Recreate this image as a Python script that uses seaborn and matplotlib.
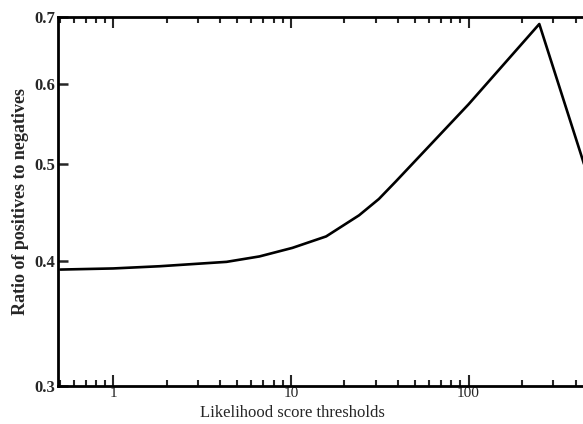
import numpy as np
import pandas as pd
import seaborn as sns
import matplotlib
matplotlib.use("Agg")
import matplotlib.pyplot as plt
from matplotlib.ticker import LogLocator, FixedLocator, NullFormatter, FuncFormatter

# values
thresholds = [0.505, 1.0, 1.83, 4.35, 6.66, 10.2, 15.8, 24.2, 31.3, 39.0, 100.0, 250.0, 430.0, 520.0]
ratios = [0.392, 0.393, 0.395, 0.399, 0.404, 0.412, 0.423, 0.444, 0.461, 0.480, 0.573, 0.689, 0.510, 0.458]
y_ticks = [0.3, 0.4, 0.5, 0.6, 0.7]
x_ticks = [1, 10, 100]

df = pd.DataFrame({"threshold": thresholds, "ratio": ratios})

sns.set_style("ticks")
plt.rcParams["font.family"] = ["Liberation Serif", "DejaVu Serif"]

fig = plt.figure(figsize=(5.83, 4.24), dpi=100)
# axes runs past the right edge of the figure, like the cropped original
ax = fig.add_axes([0.0995, 0.0896, 0.95, 0.870])

sns.lineplot(data=df, x="threshold", y="ratio", ax=ax, color="black", linewidth=1.9, estimator=None, sort=False)

ax.set_xscale("log")
ax.set_yscale("log")
ax.set_xlim(0.49, 640)
ax.set_ylim(0.3, 0.7)

ax.xaxis.set_major_locator(FixedLocator(x_ticks))
ax.xaxis.set_minor_locator(LogLocator(base=10, subs=np.arange(2, 10)))
ax.xaxis.set_major_formatter(FuncFormatter(lambda v, p: "%g" % v))
ax.xaxis.set_minor_formatter(NullFormatter())
ax.yaxis.set_major_locator(FixedLocator(y_ticks))
ax.yaxis.set_minor_locator(FixedLocator([]))
ax.yaxis.set_major_formatter(FuncFormatter(lambda v, p: "%g" % v))
ax.yaxis.set_minor_formatter(NullFormatter())

ax.tick_params(axis="x", which="major", direction="in", top=True, bottom=True, length=8, width=1.5, labelsize=11, pad=1)
ax.tick_params(axis="x", which="minor", direction="in", top=True, bottom=True, length=4, width=1.5)
ax.tick_params(axis="y", which="major", direction="in", left=True, right=False, length=7, width=1.8, labelsize=12, pad=2)
for lbl in ax.get_yticklabels():
    lbl.set_fontweight("bold")

for s in ax.spines.values():
    s.set_linewidth(2.0)
    s.set_color("black")

ax.set_xlabel("Likelihood score thresholds", fontsize=12, labelpad=0)
ax.xaxis.set_label_coords(0.4225, -0.0515)
ax.set_ylabel("Ratio of positives to negatives", fontsize=13, fontweight="bold", labelpad=4)

fig.savefig("out.png", dpi=100)
